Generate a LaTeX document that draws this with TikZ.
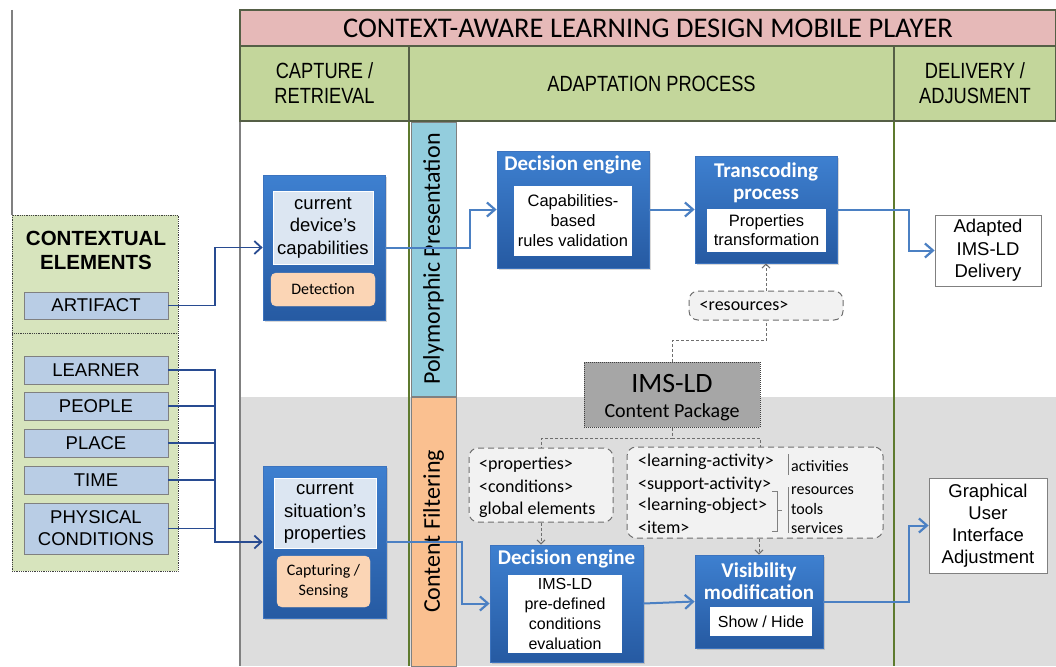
\documentclass[tikz,border=0pt]{standalone}
\usepackage{fontspec}
\setmainfont{Liberation Sans}
\newfontfamily\calfont{Carlito}
\newfontfamily\narrowfont[FakeStretch=0.83]{Liberation Sans}
\usetikzlibrary{arrows.meta,shadows,calc}
\definecolor{pinkT}{RGB}{230,185,184}
\definecolor{greenH}{RGB}{195,214,155}
\definecolor{hdrL}{RGB}{85,95,70}
\definecolor{lineO}{RGB}{94,122,46}
\definecolor{bandB}{RGB}{147,205,221}
\definecolor{bandO}{RGB}{250,192,144}
\definecolor{grayR}{RGB}{221,221,221}
\definecolor{ctxG}{RGB}{215,228,189}
\definecolor{itemB}{RGB}{185,205,229}
\definecolor{blueT}{RGB}{62,128,208}
\definecolor{blueB}{RGB}{38,90,162}
\definecolor{blueD}{RGB}{60,115,190}
\definecolor{lightB}{RGB}{220,230,242}
\definecolor{orangeL}{RGB}{251,213,181}
\definecolor{connD}{RGB}{40,75,145}
\definecolor{connL}{RGB}{75,128,195}
\definecolor{dashG}{RGB}{110,110,110}
\definecolor{boxG}{RGB}{242,242,242}
\definecolor{imsG}{RGB}{166,166,166}
\newcommand\myfs[2]{\fontsize{#1}{#2}\selectfont}
\tikzset{
  hcell/.style={draw=hdrL, line width=1.2pt, fill=greenH, inner sep=0, align=center, font=\narrowfont\myfs{22}{25}},
  ctxbox/.style={draw=darkgray, densely dotted, line width=0.8pt, fill=ctxG, inner sep=0},
  itembox/.style={draw=gray, line width=0.8pt, fill=itemB, minimum width=144, inner sep=0, align=center, font=\myfs{18.5}{22}},
  blk/.style={draw=blueD, line width=0.8pt, top color=blueT, bottom color=blueB, inner sep=0,
    drop shadow={shadow xshift=2pt, shadow yshift=-2pt, opacity=0.3}},
  wtitle/.style={text=white, font=\calfont\bfseries\myfs{21}{22}, align=center, inner sep=0},
  lightbox/.style={draw=white, line width=0.6pt, fill=lightB, inner sep=0, align=center, font=\myfs{18.5}{22.5}},
  orbox/.style={draw=orangeL, fill=orangeL, rounded corners=5pt, inner sep=0, align=center, font=\calfont\myfs{16}{20}},
  whbox/.style={fill=white, inner sep=0, align=center, font=\myfs{16}{19.7}},
  outbox/.style={draw=gray, line width=0.8pt, fill=white, inner sep=0, align=center, font=\myfs{18.5}{22.5}},
  band/.style={draw=gray, line width=0.8pt, inner sep=0, minimum width=45},
  bandtxt/.style={rotate=90, font=\calfont\myfs{24}{24}, inner sep=0},
  dbox/.style={draw=dashG, dash pattern=on 6pt off 4pt, line width=1pt, fill=boxG, rounded corners=9pt, inner sep=0},
  dsh/.style={draw=dashG, dash pattern=on 3pt off 2pt, line width=1pt},
  dtip/.style={-{Straight Barb[length=4pt,width=8pt]}},
  cd/.style={draw=connD, line width=1.5pt},
  cdarr/.style={cd, -{Straight Barb[length=7pt,width=13pt,line width=1.8pt]}},
  cl/.style={draw=connL, line width=2pt, -{Straight Barb[length=8pt,width=14pt,line width=2.2pt]}},
  ctext/.style={font=\calfont\myfs{18}{22}, inner sep=0, anchor=base west},
  stext/.style={font=\calfont\myfs{16}{20}, inner sep=0, anchor=base west},
}
\begin{document}
\begin{tikzpicture}[x=1pt,y=-1pt]
\useasboundingbox (0,0) rectangle (1056,666);
\fill[white] (0,0) rectangle (1056,666);
% regions
\fill[white] (240,121) rectangle (1056,397);
\fill[grayR] (240,397) rectangle (1056,666);
\draw[gray, line width=1.5pt] (240,121) -- (240,666);
\draw[lineO, line width=1.2pt] (409,121) -- (409,666);
\draw[lineO, line width=1.2pt] (894,121) -- (894,666);
% header
\node[draw=hdrL, line width=1.2pt, fill=pinkT, minimum width=816, minimum height=36, inner sep=0, font=\calfont\myfs{28.5}{30}] (title) at (648,28) {CONTEXT-AWARE LEARNING DESIGN MOBILE PLAYER};
\node[hcell, minimum width=169, minimum height=75] (h1) at (324.5,83.5) {CAPTURE /\\RETRIEVAL};
\node[hcell, minimum width=485, minimum height=75] (h2) at (651.5,83.5) {ADAPTATION PROCESS};
\node[hcell, minimum width=162, minimum height=75] (h3) at (975,83.5) {DELIVERY /\\ADJUSMENT};
% bands
\node[band, fill=bandB, minimum height=274] (poly) at (433.5,259) {};
\node[bandtxt] (polyt) at (poly.center) {Polymorphic Presentation};
\node[band, fill=bandO, minimum height=269] (cf) at (433.5,531.5) {};
\node[bandtxt] (cft) at (cf.center) {Content Filtering};
% left side
\draw[gray, line width=1.5pt] (12,10) -- (12,215);
\node[ctxbox, minimum width=166, minimum height=118] (ctx1) at (95,274) {};
\node[ctxbox, minimum width=166, minimum height=238] (ctx2) at (95,452) {};
\node[font=\bfseries\myfs{20.5}{24}, align=center, inner sep=0] (ctxt) at (96,250) {CONTEXTUAL\\ELEMENTS};
\node[itembox, minimum height=27] (art) at (96,305.5) {ARTIFACT};
\node[itembox, minimum height=28] (lea) at (96,370) {LEARNER};
\node[itembox, minimum height=28] (peo) at (96,406) {PEOPLE};
\node[itembox, minimum height=28] (pla) at (96,443) {PLACE};
\node[itembox, minimum height=28] (tim) at (96,480) {TIME};
\node[itembox, minimum height=51] (phy) at (96,528.5) {PHYSICAL\\CONDITIONS};
% capture blocks
\node[blk, minimum width=122, minimum height=145] (dev) at (324,247.5) {};
\node[lightbox, minimum width=100, minimum height=73] (devt) at (323,227.5) {current\\device’s\\capabilities};
\node[orbox, minimum width=104, minimum height=33] (det) at (323,289.5) {Detection};
\node[blk, minimum width=123, minimum height=152] (sit) at (324.5,542) {};
\node[lightbox, minimum width=102, minimum height=70] (sitt) at (325,513) {current\\situation’s\\properties};
\node[orbox, minimum width=93, minimum height=51] (cap) at (323.5,581.5) {Capturing /\\Sensing};
% connectors left
\coordinate (bx) at (215,0);
\draw[cdarr] (art.east) -- (art.east -| bx) |- (dev.west);
\draw[cdarr] (lea.east) -- (lea.east -| bx) |- (sit.west);
\draw[cd] (peo.east) -- (peo.east -| bx);
\draw[cd] (pla.east) -- (pla.east -| bx);
\draw[cd] (tim.east) -- (tim.east -| bx);
\draw[cd] (phy.east) -- (phy.east -| bx);
% adaptation upper
\node[blk, minimum width=152, minimum height=117] (de1) at (573,209.5) {};
\node[wtitle] (de1t) at (573,165) {Decision engine};
\node[whbox, minimum width=118, minimum height=70, font=\myfs{16.5}{20}] (de1i) at (573,221) {Capabilities-\\based\\rules validation};
\node[blk, minimum width=142, minimum height=107] (tr) at (766,209.5) {};
\node[wtitle] (trt) at (766,183) {Transcoding\\process};
\node[whbox, minimum width=119, minimum height=43, font=\myfs{16.5}{19}] (tri) at (766.5,230.5) {Properties\\transformation};
\node[outbox, minimum width=106, minimum height=71] (adp) at (988,250.5) {Adapted\\IMS-LD\\Delivery};
\node[dbox, minimum width=154, minimum height=29, font=\calfont\myfs{18}{20}] (res) at (766,305.5) {\hspace*{-44pt}<resources>};
% IMS-LD
\node[draw=darkgray, densely dotted, line width=1pt, fill=imsG, minimum width=176, minimum height=65, inner sep=0] (ims) at (672,394.5) {};
\node[font=\calfont\myfs{28}{30}, inner sep=0] (imst) at (672,384) {IMS-LD};
\node[font=\calfont\myfs{20}{22}, inner sep=0] (imsc) at (672,412) {Content Package};
% dashed boxes
\node[dbox, minimum width=144, minimum height=74] (props) at (541,485) {};
\node[ctext] (p1) at (479,469) {<properties>};
\node[ctext] (p2) at (479,492) {<conditions>};
\node[ctext] (p3) at (479,514) {global elements};
\node[dbox, minimum width=256, minimum height=91] (lo) at (755,492.5) {};
\node[ctext] (l1) at (638,466) {<learning-activity>};
\node[ctext] (l2) at (638,489) {<support-activity>};
\node[ctext] (l3) at (638,510) {<learning-object>};
\node[ctext] (l4) at (638,533) {<item>};
\node[stext] (r1) at (791,471.5) {activities};
\node[stext] (r2) at (791,494.5) {resources};
\node[stext] (r3) at (791,514.5) {tools};
\node[stext] (r4) at (791,533.5) {services};
\draw[gray, line width=1pt] (788,454) -- (788,475);
\draw[gray, line width=1pt] (788,487) -- (788,533);
\draw[gray, line width=1pt] (772,491) -- (777,491) -- (777,531) -- (772,531);
\draw[gray, line width=1pt] (777,510) -- (782,510);
% adaptation lower
\node[blk, minimum width=153, minimum height=117] (de2) at (566.5,603.5) {};
\node[wtitle] (de2t) at (566.5,559) {Decision engine};
\node[whbox, minimum width=114, minimum height=78] (de2i) at (565,614) {IMS-LD\\pre-defined\\conditions\\evaluation};
\node[blk, minimum width=128, minimum height=93] (vis) at (759,601.5) {};
\node[wtitle] (vist) at (759,581) {Visibility\\modification};
\node[whbox, minimum width=102, minimum height=29] (visi) at (761,621.5) {Show / Hide};
\node[outbox, minimum width=118, minimum height=95, font=\myfs{18.5}{22}] (gui) at (988,525.5) {Graphical\\User\\Interface\\Adjustment};
% connectors right
\coordinate (bx2) at (470,0);
\coordinate (bx3) at (909,0);
\coordinate (bx4) at (462,0);
\draw[cl] (dev.east) -- (dev.east -| bx2) |- (de1.west);
\draw[cl] (de1.east) -- (tr.west);
\draw[cl] (tr.east) -- (tr.east -| bx3) |- (adp.west);
\draw[cl] (sit.east) -- (sit.east -| bx4) |- (de2.west);
\draw[cl] (de2.east) -- (vis.west);
\draw[cl] (vis.east) -- (vis.east -| bx3) |- (gui.west);
% dashed connectors
\draw[dsh, dtip] (res.north) -- (tr.south);
\draw[dsh] (ims.north) -- ++(0,-21) -| (res.south);
\draw[dsh] (ims.south) -- ++(0,11) coordinate (split) -| (props.north);
\draw[dsh] (split) -| (ims.south east |- lo.north);
\draw[dsh, dtip] (props.south) -- (props.south |- de2.north);
\draw[dsh, dtip] (vis.north |- lo.south) -- (vis.north);
\end{tikzpicture}
\end{document}
